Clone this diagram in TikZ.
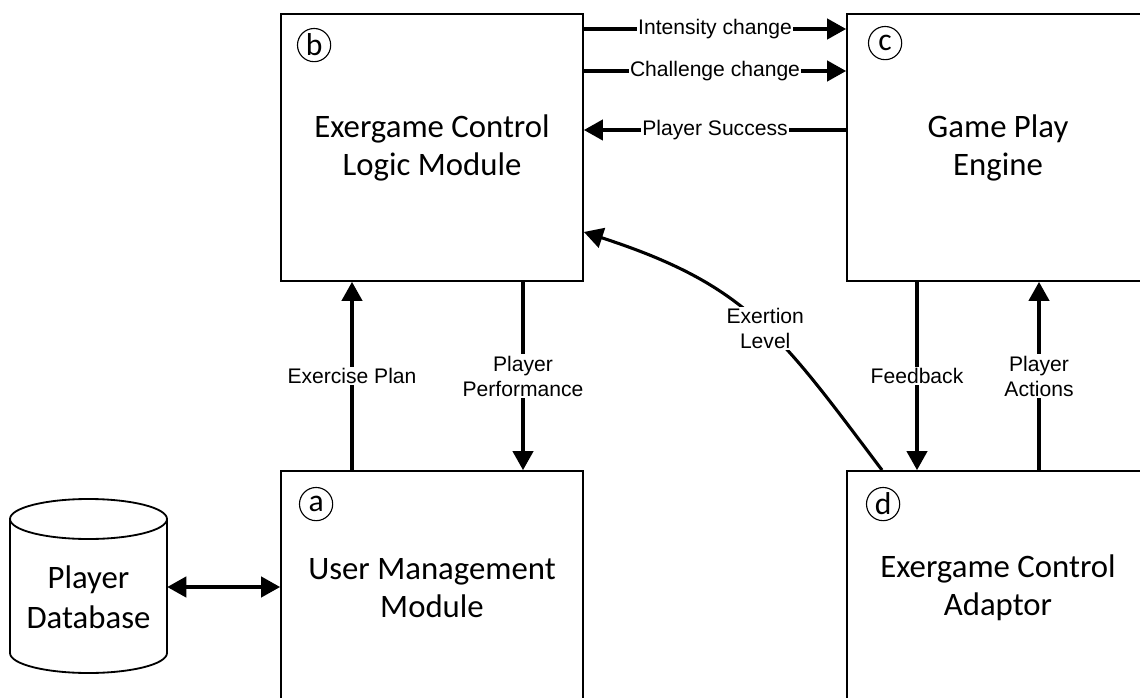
\documentclass[tikz,border=0pt]{standalone}
\usepackage{fontspec}
\setmainfont{Carlito}
\newfontfamily\arialfont{Liberation Sans}
\usetikzlibrary{arrows.meta}

\tikzset{
  module/.style={draw, line width=1.3pt, minimum width=7.55cm, align=center,
    font=\fontsize{23.3}{27}\selectfont},
  tag/.style={draw, circle, line width=0.8pt, minimum size=0.83cm, inner sep=0pt,
    font=\fontsize{22.5}{22.5}\selectfont},
  tip/.tip={Triangle[length=13.5pt,width=14.5pt]},
  flow/.style={line width=2.2pt, -tip},
  lbl/.style={fill=white, inner sep=1pt, align=center,
    font=\arialfont\fontsize{15}{17.8}\selectfont}
}

\begin{document}
\begin{tikzpicture}

\useasboundingbox (0,0) rectangle (28.5,17.425);
\clip (0,0) rectangle (28.5,17.425);

% Modules
\node [module, minimum height=6.675cm] (b) at (10.8,13.7375) {Exergame Control\\Logic Module};
\node [module, minimum height=6.675cm] (c) at (24.95,13.7375) {Game Play\\Engine};
\node [module, minimum height=5.85cm] (a) at (10.8,2.725) {User Management\\Module};
\node [module, minimum height=5.85cm] (d) at (24.95,2.725) {Exergame Control\\Adaptor};

\node [tag, xshift=0.85cm, yshift=-0.8cm] (tb) at (b.north west) {b};
\node [tag, xshift=0.975cm, yshift=-0.75cm] (tc) at (c.north west) {c};
\node [tag, xshift=0.9cm, yshift=-0.85cm] (ta) at (a.north west) {a};
\node [tag, xshift=0.925cm, yshift=-0.85cm] (td) at (d.north west) {d};

% Database
\draw [line width=1.3pt] (0.25,4.45) -- (0.25,1.1) arc [start angle=180, end angle=360, x radius=1.9625, y radius=0.5] -- (4.175,4.45);
\draw [line width=1.3pt] (2.2125,4.45) ellipse [x radius=1.9625, y radius=0.5];
\node [minimum width=3.925cm, inner sep=0pt, align=center, font=\fontsize{23.3}{28.4}\selectfont] (db) at (2.2125,2.5) {Player\\Database};

% Link points
\coordinate (dblink) at (0,2.75);
\coordinate (intens) at (0,16.7);
\coordinate (chall) at (0,15.65);
\coordinate (succ) at (0,14.175);
\coordinate (plan) at (8.8,0);
\coordinate (perf) at (13.075,0);
\coordinate (feed) at (22.925,0);
\coordinate (act) at (25.975,0);
\coordinate (exstart) at (22.05,0);
\coordinate (exend) at (0,11.625);

% Flows
\draw [flow, tip-tip] (db.east |- dblink) -- (a.west |- dblink);
\draw [flow] (b.east |- intens) -- (c.west |- intens) node [midway, lbl] {Intensity change};
\draw [flow] (b.east |- chall) -- (c.west |- chall) node [midway, lbl] {Challenge change};
\draw [flow] (c.west |- succ) -- (b.east |- succ) node [midway, lbl] {Player Success};
\draw [flow] (a.north -| plan) -- (b.south -| plan) node [midway, lbl] {Exercise Plan};
\draw [flow] (b.south -| perf) -- (a.north -| perf) node [midway, lbl] {Player\\Performance};
\draw [flow] (c.south -| feed) -- (d.north -| feed) node [midway, lbl] {Feedback};
\draw [flow] (d.north -| act) -- (c.south -| act) node [midway, lbl] {Player\\Actions};
\draw [flow] (d.north -| exstart) to [out=127, in=-18, looseness=1.15] node [pos=0.46, lbl] {Exertion\\Level} (b.east |- exend);
\end{tikzpicture}
\end{document}
